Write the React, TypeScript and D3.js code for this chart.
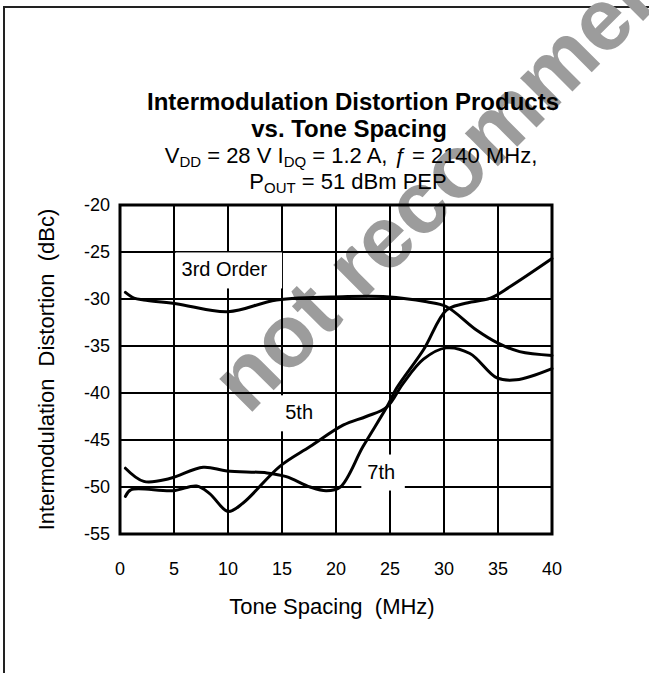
import React from "react";
import * as d3 from "d3";

// tone spacing (MHz) / IMD (dBc)
const thirdX = [0.5, 1.3, 2.2, 5.2, 10, 14.5, 20.6, 24.7, 28.4, 30.2, 33, 35, 37, 40];
const thirdY = [-29.3, -29.9, -30.1, -30.5, -31.35, -30.1, -29.75, -29.75, -30.3, -30.8, -33.3, -34.7, -35.6, -36];

const fifthX = [0.5, 1, 4.9, 7.1, 8.3, 10, 11.4, 14.8, 17.6, 20.7, 22.8, 24.7, 26.2, 28.1, 30.2, 32.4, 34.9, 36.7, 40];
const fifthY = [-51, -50.3, -50.4, -49.9, -50.7, -52.6, -51.7, -47.8, -45.7, -43.4, -42.5, -41.5, -39, -36.4, -35.2, -35.8, -38.4, -38.6, -37.4];

const seventhX = [0.5, 2.2, 4.6, 7.7, 9.9, 13.6, 15.4, 17.6, 19.1, 20.4, 22.5, 24.7, 25.6, 28.1, 30.2, 31.8, 34.3, 36.1, 40];
const seventhY = [-48, -49.4, -49.1, -47.9, -48.3, -48.5, -48.9, -50, -50.4, -50, -45.7, -41.5, -39.5, -35.4, -31.2, -30.5, -29.9, -28.7, -25.7];

const xTicks = [0, 5, 10, 15, 20, 25, 30, 35, 40];
const yTicks = [-20, -25, -30, -35, -40, -45, -50, -55];

// label text, anchor in data units
const curveLabels = [
  { text: "3rd Order", x: 5.7, y: -27.6 },
  { text: "5th", x: 15.3, y: -42.8 },
  { text: "7th", x: 22.9, y: -49.1 },
];

const FONT = "'Liberation Sans', Arial, Helvetica, sans-serif";

export default function App() {
  const W = 649;
  const H = 673;

  const x = d3.scaleLinear().domain([0, 40]).range([120, 552]);
  const y = d3.scaleLinear().domain([-55, -20]).range([534, 205]);

  const line = d3
    .line<[number, number]>()
    .x((d) => x(d[0]))
    .y((d) => y(d[1]))
    .curve(d3.curveCatmullRom.alpha(0.5));

  const series = [
    thirdX.map((v, i) => [v, thirdY[i]] as [number, number]),
    fifthX.map((v, i) => [v, fifthY[i]] as [number, number]),
    seventhX.map((v, i) => [v, seventhY[i]] as [number, number]),
  ];

  const [x0, x1] = x.range();
  const [y0, y1] = y.range();

  return (
    <svg
      width={W}
      height={H}
      style={{ position: "absolute", left: 0, top: 0, background: "#fff" }}
      fontFamily={FONT}
    >
      {/* frame */}
      <path d={`M4,${H} L4,7 L${W},7`} fill="none" stroke="#222" strokeWidth={2} />

      {/* watermark */}
      <text
        transform="translate(248,416) rotate(-45)"
        fontSize={88}
        fontWeight="bold"
        fill="#9c9c9c"
      >
        not recommended
      </text>

      {/* title */}
      <g textAnchor="middle" fill="#000">
        <text x={353} y={110} fontSize={24} fontWeight="bold">
          Intermodulation Distortion Products
        </text>
        <text x={349} y={137} fontSize={24} fontWeight="bold">
          vs. Tone Spacing
        </text>
        <text x={351} y={163} fontSize={22}>
          V<tspan fontSize={15} dy={4}>DD</tspan>
          <tspan dy={-4}> = 28 V I</tspan>
          <tspan fontSize={15} dy={4}>DQ</tspan>
          <tspan dy={-4}> = 1.2 A, </tspan>
          <tspan fontStyle="italic">ƒ</tspan> = 2140 MHz,
        </text>
        <text x={348} y={189} fontSize={22}>
          P<tspan fontSize={15} dy={4}>OUT</tspan>
          <tspan dy={-4}> = 51 dBm PEP</tspan>
        </text>
      </g>

      {/* grid */}
      <g stroke="#000" strokeWidth={2}>
        {xTicks.map((t) => (
          <line key={"vx" + t} x1={x(t)} x2={x(t)} y1={y0} y2={y1} />
        ))}
        {yTicks.map((t) => (
          <line key={"hy" + t} x1={x0} x2={x1} y1={y(t)} y2={y(t)} />
        ))}
      </g>
      <rect
        x={x0}
        y={y1}
        width={x1 - x0}
        height={y0 - y1}
        fill="none"
        stroke="#000"
        strokeWidth={3}
      />

      {/* curves */}
      <g fill="none" stroke="#000" strokeWidth={3} strokeLinejoin="round" strokeLinecap="round">
        {series.map((s, i) => (
          <path key={i} d={line(s) || ""} />
        ))}
      </g>

      {/* curve labels with white boxes */}
      {curveLabels.map((l) => {
        const w = l.text.length * 10.5 + 12;
        return (
          <g key={l.text}>
            <rect x={x(l.x) - 6} y={y(l.y) - 24} width={w} height={36} fill="#fff" />
            <text x={x(l.x)} y={y(l.y)} fontSize={20} fill="#000">
              {l.text}
            </text>
          </g>
        );
      })}

      {/* tick labels */}
      <g fontSize={18} fill="#000">
        {xTicks.map((t) => (
          <text key={"tx" + t} x={x(t)} y={575} textAnchor="middle">
            {t}
          </text>
        ))}
        {yTicks.map((t) => (
          <text key={"ty" + t} x={110} y={y(t) + 6} textAnchor="end">
            {t}
          </text>
        ))}
      </g>

      {/* axis titles */}
      <text x={332} y={614} fontSize={22} textAnchor="middle" fill="#000" style={{ whiteSpace: "pre" }}>
        Tone Spacing  (MHz)
      </text>
      <text
        transform={`translate(54,${(y0 + y1) / 2}) rotate(-90)`}
        fontSize={22}
        textAnchor="middle"
        fill="#000"
        style={{ whiteSpace: "pre" }}
      >
        Intermodulation  Distortion  (dBc)
      </text>
    </svg>
  );
}
